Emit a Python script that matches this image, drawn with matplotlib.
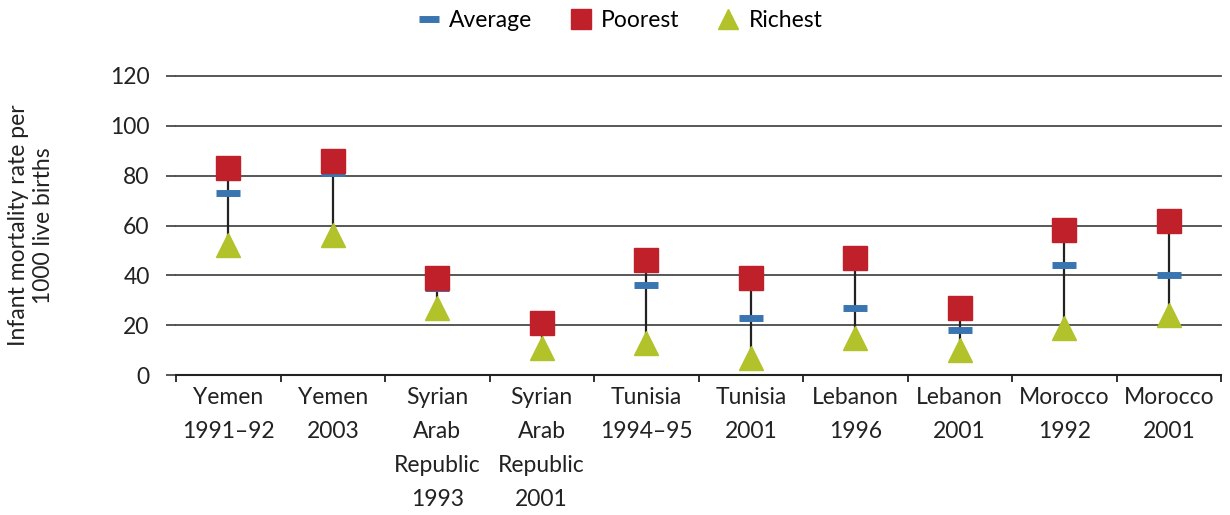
import matplotlib
matplotlib.use("Agg")
import matplotlib.pyplot as plt
from matplotlib.lines import Line2D
import numpy as np

categories = ["Yemen\n1991–92", "Yemen\n2003", "Syrian\nArab\nRepublic\n1993",
              "Syrian\nArab\nRepublic\n2001", "Tunisia\n1994–95", "Tunisia\n2001",
              "Lebanon\n1996", "Lebanon\n2001", "Morocco\n1992", "Morocco\n2001"]
average = [73, 81, 35, 20, 36, 23, 27, 18, 44, 40]
poorest = [83, 86, 39, 21, 46, 39, 47, 27, 58, 62]
richest = [52, 56, 27, 11, 13, 7, 15, 10, 19, 24]
yticks = [0, 20, 40, 60, 80, 100, 120]

RED = "#C0202A"
BLUE = "#3A75B0"
GREEN = "#B2C22A"
GRID = "#4a4a4a"
TXT = "#222222"
FS = 16.5

plt.rcParams['font.family'] = ['Lato', 'DejaVu Sans']
fig = plt.figure(figsize=(12.3, 5.15), dpi=100)
ax = fig.add_axes([176/1230, 1-375/515, (1221-176)/1230, (375-76)/515])

x = np.arange(len(categories))
ax.vlines(x, richest, poorest, color=TXT, lw=1.6, zorder=2)
ax.plot(x, average, linestyle="none", marker="_", ms=17, mew=5, color=BLUE, zorder=3)
ax.plot(x, poorest, linestyle="none", marker="s", ms=17, color=RED, mec=RED, zorder=4)
ax.plot(x, richest, linestyle="none", marker="^", ms=17, color=GREEN, mec=GREEN, zorder=4)

ax.set_xlim(-0.5, len(categories) - 0.5)
ax.set_ylim(0, 120)
ax.set_yticks(yticks)
ax.set_yticklabels([str(v) for v in yticks], fontsize=FS, color=TXT)
ax.yaxis.grid(True, color=GRID, lw=1.3)
for gl in ax.get_ygridlines():
    gl.set_clip_on(False)
ax.set_axisbelow(True)
ax.tick_params(axis="y", length=7, width=1.3, color=GRID, pad=12)

ax.set_xticks(x)
ax.set_xticklabels(categories, fontsize=FS, color=TXT, linespacing=1.75)
ax.tick_params(axis="x", which="major", length=0, pad=9)
ax.set_xticks(np.arange(-0.5, len(categories), 1.0), minor=True)
ax.tick_params(axis="x", which="minor", length=5, width=1.3, color=TXT)

for s in ["top", "right", "left"]:
    ax.spines[s].set_visible(False)
ax.spines["bottom"].set_color(TXT)
ax.spines["bottom"].set_linewidth(1.5)

ax.set_ylabel("Infant mortality rate per\n1000 live births", fontsize=FS,
              color=TXT, labelpad=40, linespacing=1.25)

handles = [
    Line2D([], [], linestyle="none", marker="_", ms=14, mew=5, color=BLUE),
    Line2D([], [], linestyle="none", marker="s", ms=14, color=RED),
    Line2D([], [], linestyle="none", marker="^", ms=14, color=GREEN),
]
fig.legend(handles, ["Average", "Poorest", "Richest"], loc="upper center",
           bbox_to_anchor=(0.503, 1.02), ncol=3, frameon=False, fontsize=FS,
           handletextpad=0.3, columnspacing=1.5, handlelength=1.2)

fig.savefig("out.png", dpi=100)
